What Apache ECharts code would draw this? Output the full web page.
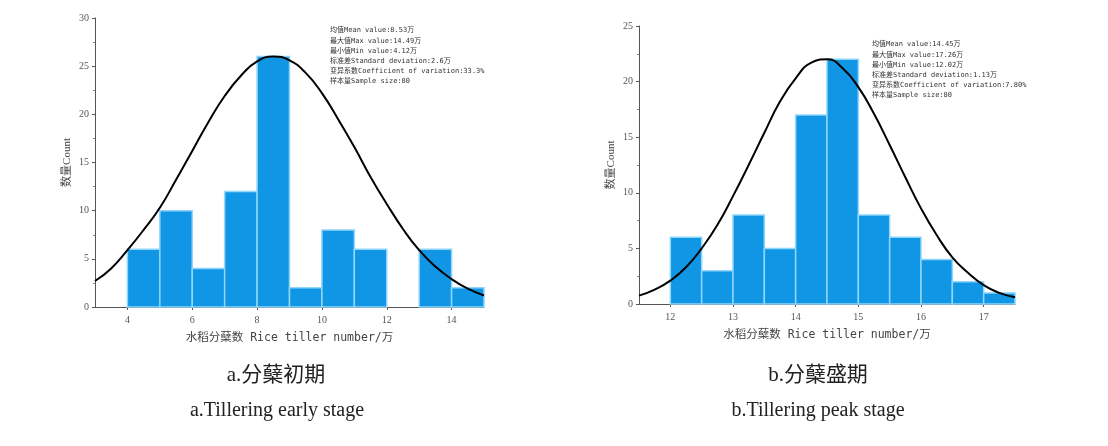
<!DOCTYPE html>
<html><head><meta charset="utf-8">
<script src="https://cdn.jsdelivr.net/npm/echarts@6/dist/echarts.min.js"></script>
<style>html,body{margin:0;padding:0;background:#fff}#c{width:1108px;height:446px}</style>
</head><body><div id="c"></div>
<script>
// ---- data: chart a (tillering early stage) ----
const binStartA = [4, 5, 6, 7, 8, 9, 10, 11, 12, 13, 14];
const binEndA   = [5, 6, 7, 8, 9, 10, 11, 12, 13, 14, 15];
const countsA   = [6, 10, 4, 12, 26, 2, 8, 6, 0, 6, 2];
const curveXA = [3,3.5,4,4.5,5,5.5,6,6.5,7,7.5,8,8.5,9,9.5,10,10.5,11,11.5,12,12.5,13,13.5,14,14.5,15];
const curveYA = [2.7,4.0,5.9,8.0,10.3,13.2,16.2,19.2,21.9,24.0,25.5,26.0,25.6,24.3,22.2,19.5,16.6,13.5,10.7,8.1,5.9,4.2,2.9,1.9,1.2];
const ticksXA = [4, 6, 8, 10, 12, 14];
const statsA = ['均值Mean value:8.53万','最大值Max value:14.49万','最小值Min value:4.12万','标准差Standard deviation:2.6万','变异系数Coefficient of variation:33.3%','样本量Sample size:80'];
// ---- data: chart b (tillering peak stage) ----
const binStartB = [12, 12.5, 13, 13.5, 14, 14.5, 15, 15.5, 16, 16.5, 17];
const binEndB   = [12.5, 13, 13.5, 14, 14.5, 15, 15.5, 16, 16.5, 17, 17.5];
const countsB   = [6, 3, 8, 5, 17, 22, 8, 6, 4, 2, 1];
const curveXB = [11.5,11.75,12,12.25,12.5,12.75,13,13.25,13.5,13.75,14,14.25,14.5,14.75,15,15.25,15.5,15.75,16,16.25,16.5,16.75,17,17.25,17.5];
const curveYB = [0.75,1.3,2.1,3.3,5.0,7.1,9.7,12.5,15.4,18.2,20.3,21.7,22.0,21.2,19.5,17.1,14.3,11.4,8.6,6.2,4.2,2.8,1.7,1.0,0.6];
const ticksXB = [12, 13, 14, 15, 16, 17];
const statsB = ['均值Mean value:14.45万','最大值Max value:17.26万','最小值Min value:12.02万','标准差Standard deviation:1.13万','变异系数Coefficient of variation:7.80%','样本量Sample size:80'];
const xName = '水稻分蘖数 Rice tiller number/万';
const yName = '数量Count';

const serif = '"Liberation Serif","Noto Sans CJK SC",serif';
const axisCol = '#555';
function bins(s, e, c){ return s.map((v,i)=>[v, e[i], c[i]]); }
function renderBar(params, api){
  if (!api.value(2)) return null;
  const p0 = api.coord([api.value(0), 0]);
  const p1 = api.coord([api.value(1), api.value(2)]);
  return {type:'rect', shape:{x:p0[0], y:p1[1], width:p1[0]-p0[0], height:p0[1]-p1[1]},
    style:{fill:'#1196e6', stroke:'#8fd6fa', lineWidth:1.5}};
}
function xAxis(idx, min, max, ticks){
  return {type:'value', gridIndex:idx, min:min, max:max,
    name:xName, nameLocation:'middle', nameGap:25,
    nameTextStyle:{fontFamily:'"DejaVu Sans Mono","Noto Sans CJK SC",monospace', fontSize:11.5, color:'#444'},
    axisLine:{show:true, lineStyle:{color:axisCol, width:1}},
    axisTick:{show:true, customValues:ticks, length:3, inside:false, lineStyle:{color:axisCol}},
    axisLabel:{customValues:ticks, fontFamily:serif, fontSize:10, color:'#555', margin:8},
    splitLine:{show:false}};
}
function yAxis(idx, max, interval){
  return {type:'value', gridIndex:idx, min:0, max:max, interval:interval,
    name:yName, nameLocation:'middle', nameGap:22,
    nameTextStyle:{fontFamily:serif, fontSize:11, color:'#444'},
    axisLine:{show:true, lineStyle:{color:axisCol, width:1}},
    axisTick:{show:true, length:3, lineStyle:{color:axisCol}},
    minorTick:{show:true, splitNumber:2, length:2, lineStyle:{color:'#888'}},
    axisLabel:{fontFamily:serif, fontSize:10, color:'#555', margin:6},
    splitLine:{show:false}};
}
function statsText(lines, x, y){
  return lines.map((t,i)=>({type:'text', left:x, top:y+i*10.2,
    style:{text:t, font:'7px "DejaVu Sans Mono","Noto Sans CJK SC",monospace', fill:'#333'}}));
}
function caption(t, cx, cy, size){
  return {type:'text', x:cx, y:cy, style:{text:t, font:size+'px "Liberation Serif","Noto Sans CJK SC",serif', fill:'#222', textAlign:'center', textVerticalAlign:'middle'}};
}
const chart = echarts.init(document.getElementById('c'), null, {renderer:'canvas'});
chart.setOption({
  backgroundColor:'#fff',
  animation:false,
  grid:[
    {left:95, top:18, width:389, height:289},
    {left:639, top:26, width:376, height:278}
  ],
  xAxis:[xAxis(0,3,15,ticksXA), xAxis(1,11.5,17.5,ticksXB)],
  yAxis:[yAxis(0,30,5), yAxis(1,25,5)],
  series:[
    {type:'custom', xAxisIndex:0, yAxisIndex:0, renderItem:renderBar, data:bins(binStartA,binEndA,countsA), encode:{x:[0,1], y:2}, z:1},
    {type:'line', xAxisIndex:0, yAxisIndex:0, smooth:true, showSymbol:false, lineStyle:{color:'#000', width:2}, data:curveXA.map((x,i)=>[x,curveYA[i]]), z:3},
    {type:'custom', xAxisIndex:1, yAxisIndex:1, renderItem:renderBar, data:bins(binStartB,binEndB,countsB), encode:{x:[0,1], y:2}, z:1},
    {type:'line', xAxisIndex:1, yAxisIndex:1, smooth:true, showSymbol:false, lineStyle:{color:'#000', width:2}, data:curveXB.map((x,i)=>[x,curveYB[i]]), z:3}
  ],
  graphic:[
    ...statsText(statsA, 330, 27),
    ...statsText(statsB, 872, 41),
    caption('a.分蘖初期', 276, 375, 21),
    caption('a.Tillering early stage', 277, 411, 20),
    caption('b.分蘖盛期', 818, 375, 21),
    caption('b.Tillering peak stage', 818, 411, 20)
  ]
});
</script></body></html>
